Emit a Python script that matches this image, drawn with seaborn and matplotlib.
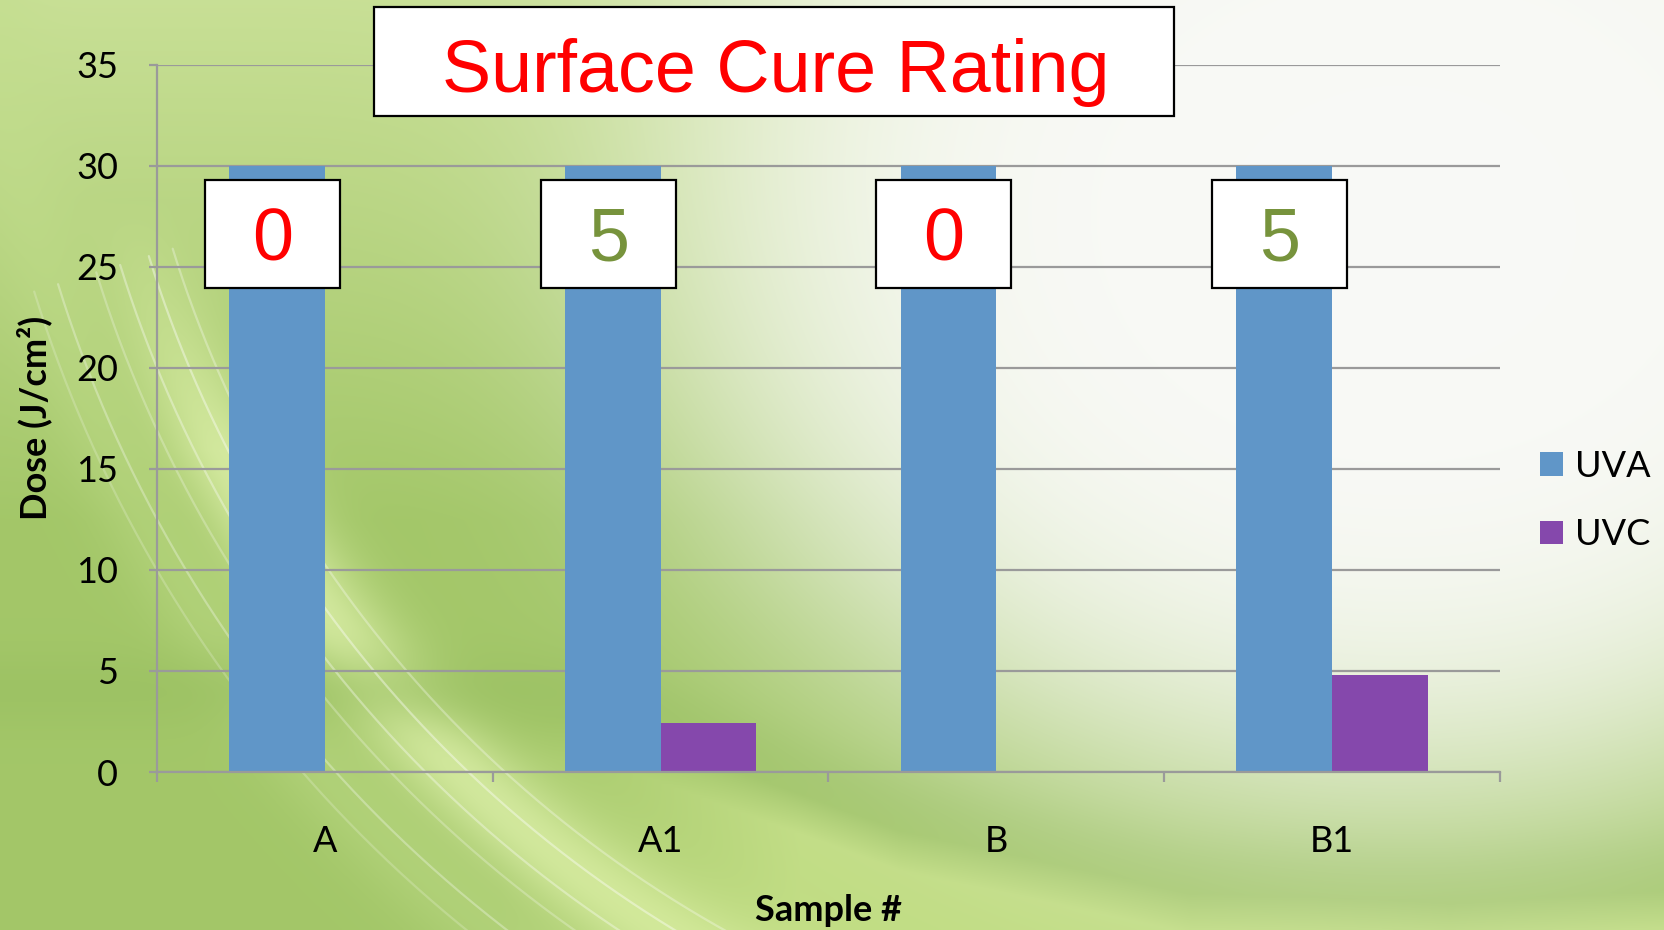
import numpy as np
import pandas as pd
import matplotlib
matplotlib.use('Agg')
import matplotlib.pyplot as plt
from matplotlib.patches import Rectangle
import seaborn as sns

# -----------------------------------------------------------------------------
# ----------------------------- chart data ------------------------------------
SAMPLES = ['A', 'A1', 'B', 'B1']
SERIES = ['UVA', 'UVC']
UVA_DOSE = [30, 30, 30, 30]
UVC_DOSE = [0, 2.4, 0, 4.8]
RATINGS = ['0', '5', '0', '5']

TITLE = 'Surface Cure Rating'
Y_LABEL = 'Dose (J/cm²)'
X_LABEL = 'Sample #'
Y_TICKS = [0, 5, 10, 15, 20, 25, 30, 35]

# ----------------------------- styling ---------------------------------------
BAR_COLORS = ['#6096C8', '#8548AC']
RATING_COLORS = {'0': '#FF0000', '5': '#77933C'}
GRID_GRAY = '#9A9A9A'
LABEL_FONT = ['Lato', 'DejaVu Sans']
BOX_FONT = ['Liberation Sans', 'DejaVu Sans']

W_PX, H_PX, DPI = 1665, 930, 100

# -----------------------------------------------------------------------------


def blend(img, color, weight):
    return img + (np.asarray(color) - img) * weight[..., None]


def draw_background(fig):
    ''' green slide-style background, pale glow on the right, soft arcs '''
    bg = fig.add_axes([0, 0, 1, 1], zorder=-10)
    yy, xx = np.mgrid[0:H_PX:2, 0:W_PX:2].astype(float)

    img = np.zeros(xx.shape + (3,)) + np.array([0.64, 0.78, 0.41])
    img = blend(img, [0.82, 0.90, 0.63], 0.8*np.clip(1 - yy/520, 0, 1))

    # wide light arc sweeping down from the left edge
    d = np.hypot(xx - 1300, yy + 100)
    arc = np.exp(-((d - 1210)/50)**2) * np.clip((yy - 200)/250, 0, 1)
    img = blend(img, [0.88, 0.95, 0.68], 0.75*arc)
    img = blend(img, [0.76, 0.87, 0.55], 0.4*np.exp(-((d - 1310)/45)**2))

    # darker fold and light band along the bottom
    yc = np.interp(xx, [600, 900, 1190, 1450, 1665], [690, 800, 862, 872, 860])
    img = blend(img, [0.60, 0.75, 0.38], 0.55*np.exp(-((yy - yc)/40)**2))
    img = blend(img, [0.83, 0.92, 0.58],
                0.6*np.clip((yy - yc - 30)/40, 0, 1) * np.clip((xx - 500)/300, 0, 1))

    # pale highlight towards the upper right
    r2 = ((xx - 1400)/700)**2 + ((yy - 230)/560)**2
    glow = np.exp(-(r2/1.2)**2.5)
    img = blend(img, [0.975, 0.978, 0.965], glow)

    bg.imshow(img, aspect='auto', extent=[0, W_PX, H_PX, 0],
              interpolation='bilinear')

    # thin bright streaks inside the arc
    t = np.linspace(0.3, 1.15, 300)
    for r, a in [(1180, 0.3), (1205, 0.4), (1235, 0.35), (1260, 0.25),
                 (1300, 0.3), (1325, 0.2)]:
        bg.plot(1300 - r*np.cos(t), -100 + r*np.sin(t), color='white',
                alpha=a, lw=1.6)
    bg.set_xlim(0, W_PX)
    bg.set_ylim(H_PX, 0)
    bg.axis('off')


# -----------------------------------------------------------------------------


def plot_chart():
    sns.set_theme(style='white')
    plt.rcParams['font.family'] = LABEL_FONT
    plt.rcParams['text.color'] = 'black'
    plt.rcParams['axes.labelcolor'] = 'black'

    df = pd.DataFrame({
        'Sample': SAMPLES * 2,
        'Series': [SERIES[0]]*len(SAMPLES) + [SERIES[1]]*len(SAMPLES),
        'Dose': UVA_DOSE + UVC_DOSE,
    })

    fig = plt.figure(figsize=(W_PX/DPI, H_PX/DPI), dpi=DPI)
    draw_background(fig)

    left, right, bottom, top = 157, 1500, 772, 64.5
    ax = fig.add_axes([left/W_PX, 1 - bottom/H_PX,
                       (right - left)/W_PX, (bottom - top)/H_PX])
    ax.patch.set_alpha(0)

    sns.barplot(data=df, x='Sample', y='Dose', hue='Series',
                palette=BAR_COLORS, saturation=1, width=0.57, gap=0,
                linewidth=0, ax=ax)

    ax.set_xlim(-0.5, len(SAMPLES) - 0.5)
    ax.set_ylim(0, 35)
    ax.set_yticks(Y_TICKS)
    ax.set_axisbelow(True)
    ax.yaxis.grid(True, color=GRID_GRAY, lw=1.6)
    ax.xaxis.grid(False)

    for side in ['top', 'right']:
        ax.spines[side].set_visible(False)
    for side in ['left', 'bottom']:
        ax.spines[side].set_color(GRID_GRAY)
        ax.spines[side].set_linewidth(1.6)

    ax.tick_params(axis='y', length=6, width=1.6, color=GRID_GRAY,
                   labelsize=26, pad=22, left=True, labelcolor='black')
    ax.set_xticks(np.arange(-0.5, len(SAMPLES)), minor=True)
    ax.tick_params(axis='x', which='minor', length=7, width=1.6,
                   color=GRID_GRAY, bottom=True)
    ax.tick_params(axis='x', which='major', length=0, labelsize=26, pad=38,
                   labelcolor='black')

    ax.set_ylabel(Y_LABEL, fontsize=26, fontweight='bold', color='black')
    ax.yaxis.set_label_coords(-0.078, 0.5)
    ax.set_xlabel(X_LABEL, fontsize=26, fontweight='bold', color='black')
    ax.xaxis.set_label_coords(0.5, -0.173)

    # rating boxes sit on the UVA bars
    for bar, rating in zip(ax.containers[0], RATINGS):
        cx = bar.get_x() + bar.get_width()/2 - 0.014
        ax.add_patch(Rectangle((cx - 0.201, 23.95), 0.402, 5.34,
                               facecolor='white', edgecolor='black', lw=1.6,
                               zorder=5))
        ax.text(cx, 26.62, rating, ha='center', va='center_baseline',
                fontsize=53, family=BOX_FONT, color=RATING_COLORS[rating],
                zorder=6)

    leg = ax.legend(loc='center left', bbox_to_anchor=(0.925, 0.462),
                    bbox_transform=fig.transFigure, frameon=False,
                    fontsize=26, handlelength=0.62, handleheight=0.62,
                    handletextpad=0.35, labelspacing=0.98, borderpad=0,
                    borderaxespad=0)
    for txt in leg.get_texts():
        txt.set_color('black')

    # title box
    fig.patches.append(Rectangle((374/W_PX, 1 - 116/H_PX), 800/W_PX,
                                 109/H_PX, transform=fig.transFigure,
                                 facecolor='white', edgecolor='black',
                                 lw=1.6, zorder=10))
    fig.text(776/W_PX, 1 - 92/H_PX, TITLE, ha='center', va='baseline',
             fontsize=53, family=BOX_FONT, color='#FF0000', zorder=11)

    fig.savefig('out.png', dpi=DPI)


# -----------------------------------------------------------------------------

plot_chart()
